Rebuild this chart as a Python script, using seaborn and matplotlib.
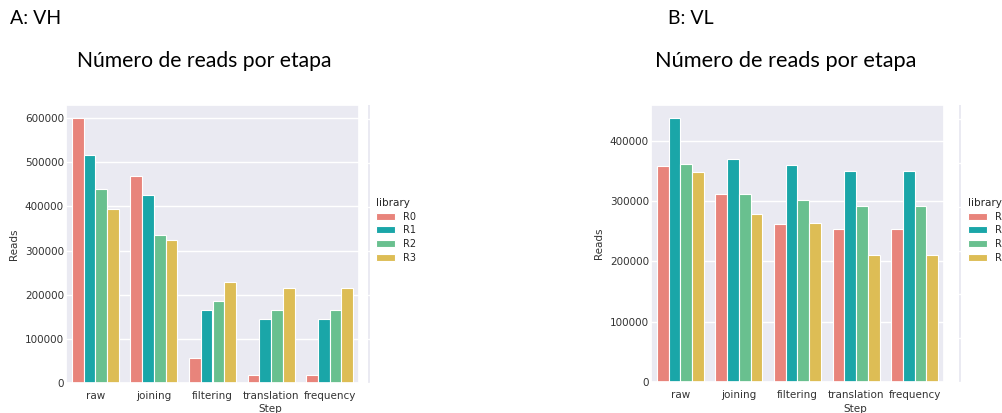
import matplotlib
matplotlib.use("Agg")
import matplotlib.pyplot as plt
import seaborn as sns
import pandas as pd
from matplotlib.patches import Patch

# ---- data -------------------------------------------------------------
steps = ["raw", "joining", "filtering", "translation", "frequency"]
libraries = ["R0", "R1", "R2", "R3"]

vh_r0 = [600000, 470000, 56000, 19000, 19000]
vh_r1 = [517000, 427000, 165000, 146000, 146000]
vh_r2 = [440000, 335000, 186000, 166000, 166000]
vh_r3 = [395000, 325000, 229000, 215000, 215000]

vl_r0 = [358000, 312000, 261000, 253000, 253000]
vl_r1 = [437000, 370000, 360000, 350000, 350000]
vl_r2 = [361000, 311000, 302000, 292000, 292000]
vl_r3 = [348000, 279000, 263000, 210000, 210000]

panel_labels = ["A: VH", "B: VL"]
panel_title = "Número de reads por etapa"

colors = ["#E8847B", "#1AA6A8", "#69C08F", "#DDBD55"]


def long_frame(series):
    rows = []
    for lib, vals in zip(libraries, series):
        for step, v in zip(steps, vals):
            rows.append({"Step": step, "library": lib, "Reads": v})
    return pd.DataFrame(rows)


vh = long_frame([vh_r0, vh_r1, vh_r2, vh_r3])
vl = long_frame([vl_r0, vl_r1, vl_r2, vl_r3])

# ---- figure -------------------------------------------------------------
sns.set_theme(style="darkgrid")
W, H = 1003, 413
fig = plt.figure(figsize=(W / 100, H / 100), dpi=100)


def px_axes(x0, y0, x1, y1):
    return fig.add_axes([x0 / W, 1 - y1 / H, (x1 - x0) / W, (y1 - y0) / H])


def px_text(x, y, s, **kw):
    fig.text(x / W, 1 - y / H, s, **kw)


def draw_panel(df, box, sliver_x, legend_x):
    ax = px_axes(*box)
    sns.barplot(data=df, x="Step", y="Reads", hue="library", order=steps,
                hue_order=libraries, palette=colors, saturation=1, ax=ax,
                edgecolor="white", linewidth=0.8, errorbar=None, legend=False)
    ax.tick_params(axis="y", labelsize=7.5, pad=1.5, length=0, colors="#333333")
    ax.tick_params(axis="x", labelsize=7.5, pad=5.5, length=0, colors="#333333")
    ax.set_xlabel("Step", fontsize=7.5, color="#333333")
    ax.set_ylabel("Reads", fontsize=7.5, color="#333333")
    h = box[3] - box[1]
    ax.xaxis.set_label_coords(0.696, -(409 - box[3]) / h)
    ax.xaxis.label.set_va("center")
    ax.set_xlim(-0.5, 4.5)

    # narrow neighbouring facet strip
    strip = px_axes(sliver_x, box[1], sliver_x + 2.5, box[3])
    strip.set_facecolor("#EAEAF2")
    strip.set_ylim(0, 632000)
    strip.set_yticks([100000 * k for k in range(7)])
    strip.set_xticks([])
    strip.tick_params(labelleft=False, labelbottom=False)
    for s in strip.spines.values():
        s.set_visible(False)

    handles = [Patch(facecolor=c, edgecolor="white", linewidth=0.8) for c in colors]
    fig.legend(handles, libraries, title="library", loc="upper left",
               bbox_to_anchor=(legend_x / W, 1 - 194 / H), frameon=False,
               fontsize=7, title_fontsize=7.5, labelspacing=0.38,
               handlelength=2.0, handletextpad=0.8, borderaxespad=0,
               alignment="left")
    return ax


draw_panel(vh, (66, 105, 359, 383), 368, 372)
draw_panel(vl, (651, 105, 944, 382), 959, 964)

title_font = ["Lato", "DejaVu Sans"]
px_text(10, 19, panel_labels[0], fontsize=14, family=title_font, va="center",
        color="black")
px_text(668, 19, panel_labels[1], fontsize=14, family=title_font, va="center",
        color="black")
px_text(77, 61, panel_title, fontsize=15.2, family=title_font, va="center",
        color="black")
px_text(655, 61, panel_title, fontsize=15.7, family=title_font, va="center",
        color="black")

fig.savefig("out.png", dpi=100, facecolor="white")
